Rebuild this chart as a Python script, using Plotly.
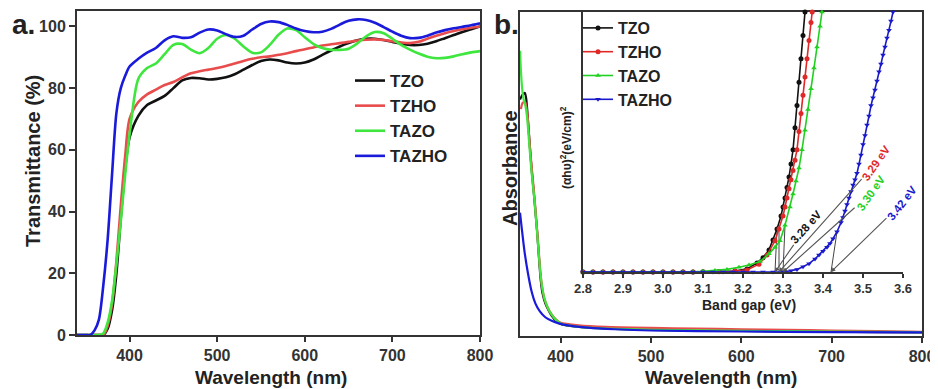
import plotly.graph_objects as go

# The page body adds an 8 px margin; the figure is sized so it fills the 938x389 window.
OFF = 8
W, H = 938 - OFF, 389 - OFF
FONT = "Liberation Sans, Arial, sans-serif"


def px(x):
    return (x - OFF) / W


def py(y):
    return 1 - (y - OFF) / H


names = ["TZO", "TZHO", "TAZO", "TAZHO"]
colors = ["#111111", "#e84c4c", "#3ee63e", "#1a1adb"]
inset_colors = ["#111111", "#e02828", "#22d022", "#1a1acc"]
symbols = ["circle", "circle", "triangle-up", "triangle-down"]

# ---------------- Panel a: transmittance ----------------
wl_a = [340, 350, 355, 360, 365, 370, 375, 380, 385, 390, 395, 400,
        410, 420, 430, 440, 450, 460, 470, 480, 490, 500, 510, 520, 530, 540,
        550, 560, 570, 580, 590, 600, 610, 620, 630, 640, 650, 660, 670, 680,
        690, 700, 710, 720, 730, 740, 750, 760, 770, 780, 790, 800]
T_TZO = [0, 0, 0, 0, 0, 0, 2, 8, 20, 38, 54, 64,
         71, 74.5, 76, 77.5, 80, 82.5, 83.3, 83.2, 82.8, 83, 83.5, 84.5, 86, 87.5,
         88.8, 89.3, 89, 88.3, 88, 88.3, 89.3, 90.8, 92.2, 93.5, 94.6, 95.5, 96, 96,
         95.6, 95, 94.4, 94, 94, 94.4, 95.2, 96.2, 97.2, 98.2, 99.1, 100]
T_TZHO = [0, 0, 0, 0, 0, 0, 3, 10, 24, 42, 58, 70,
          75.5, 78, 79.5, 81, 82, 83.5, 84.8, 85.5, 86, 86.5, 87.2, 88, 88.8, 89.5,
          90, 90.3, 90.8, 91.3, 92, 92.6, 93.2, 93.8, 94.2, 94.6, 95, 95.4, 95.7, 95.8,
          95.6, 95.2, 94.8, 94.6, 95, 96, 97, 97.8, 98.5, 99.1, 99.6, 100]
T_TAZO = [0, 0, 0, 0, 0, 0.5, 4, 11, 23, 37, 52, 65,
          83, 86.5, 88, 91, 94, 94.3, 92.5, 91.3, 93, 96, 97.2, 96, 93.5, 91.5,
          91.6, 94, 97.3, 99.3, 98.8, 96.5, 94.3, 93, 92.4, 92.4, 92.8, 94.5, 96.8, 98.2,
          97.8, 96, 94, 92.5, 91.2, 90.2, 89.7, 89.8, 90.3, 91, 91.6, 92]
T_TAZHO = [0, 0, 0, 1.5, 5, 16, 31, 52, 72, 80, 84, 87,
           89.5, 91.5, 93, 95.5, 96.8, 96.3, 96.5, 98, 99, 98.7, 97.5, 96.6, 97, 99,
           100.8, 101.6, 101.4, 100.5, 99.3, 98.5, 98.1, 98.3, 99.2, 100.6, 101.8, 102.3, 102.1, 101.2,
           99.8, 98.3, 97, 96.2, 96.3, 97, 98, 98.8, 99.4, 99.9, 100.4, 101]
T_all = [T_TZO, T_TZHO, T_TAZO, T_TAZHO]

# ---------------- Panel b: absorbance ----------------
wl_b_TZO = [355, 358, 360.5, 362, 364, 366, 368, 370, 372, 374, 376, 378, 380, 383, 386,
            390, 395, 400, 410, 430, 460, 500, 550, 600, 650, 700, 750, 800]
A_TZO = [0.73, 0.745, 0.75, 0.73, 0.66, 0.58, 0.51, 0.45, 0.385, 0.32, 0.24, 0.17, 0.13, 0.10, 0.082,
         0.062, 0.045, 0.036, 0.03, 0.025, 0.021, 0.018, 0.016, 0.015, 0.013, 0.012, 0.011, 0.010]
wl_b_TZHO = [356, 358, 361, 363, 365, 367, 369, 371, 373, 375, 377, 379, 382, 386,
             390, 395, 400, 420, 450, 500, 550, 600, 650, 700, 750, 800]
A_TZHO = [0.70, 0.72, 0.72, 0.69, 0.62, 0.55, 0.49, 0.43, 0.36, 0.29, 0.215, 0.16, 0.115, 0.085,
          0.066, 0.05, 0.04, 0.032, 0.027, 0.024, 0.022, 0.02, 0.018, 0.016, 0.014, 0.012]
wl_b_TAZO = [355, 356, 357.5, 359, 361, 363, 365, 367, 369, 371, 373, 375, 377, 379, 382, 386,
             390, 395, 400, 410, 430, 460, 500, 600, 700, 800]
A_TAZO = [0.88, 0.82, 0.76, 0.73, 0.71, 0.67, 0.60, 0.53, 0.47, 0.42, 0.35, 0.28, 0.21, 0.16, 0.115, 0.085,
          0.065, 0.048, 0.038, 0.031, 0.025, 0.021, 0.018, 0.015, 0.013, 0.011]
wl_b_TAZHO = [355, 357, 360, 364, 368, 372, 377, 383, 390, 397, 410, 430, 460, 500, 600, 700, 800]
A_TAZHO = [0.38, 0.33, 0.26, 0.19, 0.135, 0.10, 0.075, 0.057, 0.046, 0.039, 0.031, 0.025, 0.02,
           0.016, 0.013, 0.011, 0.010]
wl_b_all = [wl_b_TZO, wl_b_TZHO, wl_b_TAZO, wl_b_TAZHO]
A_all = [A_TZO, A_TZHO, A_TAZO, A_TAZHO]

# ---------------- Inset: Tauc plot ----------------
base_E = [2.800, 2.825, 2.850, 2.875, 2.900, 2.925, 2.950, 2.975, 3.000, 3.025, 3.050, 3.075, 3.100]
E_TZO = base_E + [3.14, 3.18, 3.21, 3.235, 3.25, 3.265, 3.275, 3.285, 3.295, 3.30, 3.305, 3.31,
                  3.315, 3.32, 3.325, 3.33, 3.335, 3.34, 3.345, 3.35, 3.355]
h_TZO = [0] * 12 + [0.001] + [0.002, 0.004, 0.012, 0.035, 0.055, 0.085, 0.123, 0.165, 0.215, 0.25, 0.285,
                              0.325, 0.365, 0.415, 0.47, 0.555, 0.64, 0.73, 0.82, 0.91, 1.0]
E_TZHO = base_E + [3.14, 3.18, 3.21, 3.24, 3.26, 3.28, 3.29, 3.30, 3.305, 3.31, 3.315, 3.32, 3.325,
                   3.33, 3.335, 3.34, 3.345, 3.35, 3.355, 3.36, 3.365, 3.37, 3.373]
h_TZHO = [0] * 13 + [0.001, 0.003, 0.008, 0.03, 0.065, 0.12, 0.165, 0.215, 0.25, 0.285, 0.32, 0.355,
                     0.39, 0.43, 0.47, 0.54, 0.61, 0.68, 0.75, 0.82, 0.89, 0.96, 1.0]
E_TAZO = base_E + [3.13, 3.16, 3.19, 3.215, 3.2425, 3.265, 3.28, 3.2925, 3.305, 3.3175, 3.325,
                   3.3325, 3.34, 3.3475, 3.355, 3.3625, 3.37, 3.3775, 3.385, 3.3925, 3.3975]
h_TAZO = [0] * 11 + [0.001, 0.003] + [0.006, 0.01, 0.018, 0.027, 0.04, 0.07, 0.095, 0.12, 0.18, 0.25,
                                      0.30, 0.35, 0.40, 0.47, 0.545, 0.625, 0.705, 0.785, 0.865, 0.945, 1.0]
E_TAZHO = base_E + [3.125, 3.15, 3.175, 3.20, 3.225, 3.25, 3.275, 3.30, 3.32, 3.335, 3.35, 3.365,
                    3.38, 3.39, 3.40, 3.41, 3.4175, 3.425, 3.435, 3.445,
                    3.450, 3.455, 3.460, 3.465, 3.470, 3.475, 3.480, 3.485, 3.490, 3.495, 3.500,
                    3.505, 3.510, 3.515, 3.520, 3.525, 3.530, 3.535, 3.540, 3.545, 3.550, 3.555,
                    3.560, 3.565, 3.570, 3.575]
h_TAZHO = [0] * 21 + [0.005, 0.01, 0.02, 0.032, 0.05, 0.065, 0.08, 0.095, 0.11, 0.128, 0.155, 0.19,
                      0.21, 0.235, 0.26, 0.285, 0.31, 0.335, 0.355, 0.38, 0.415, 0.45, 0.49,
                      0.525, 0.565, 0.60, 0.64, 0.67, 0.70, 0.735, 0.77, 0.80, 0.835, 0.865,
                      0.90, 0.93, 0.965, 1.0]
E_all = [E_TZO, E_TZHO, E_TAZO, E_TAZHO]
h_all = [h_TZO, h_TZHO, h_TAZO, h_TAZHO]

band_gaps = [3.28, 3.29, 3.30, 3.42]
gap_labels = ["3.28 eV", "3.29 eV", "3.30 eV", "3.42 eV"]

xticks_a = [400, 500, 600, 700, 800]
yticks_a = [0, 20, 40, 60, 80, 100]
xticks_b = [400, 500, 600, 700, 800]
xticks_inset = [2.8, 2.9, 3.0, 3.1, 3.2, 3.3, 3.4, 3.5, 3.6]

fig = go.Figure()

for i in range(4):
    fig.add_trace(go.Scatter(
        x=wl_a, y=T_all[i], mode="lines", name=names[i],
        line=dict(color=colors[i], width=2.6, shape="spline", smoothing=0.8),
        xaxis="x", yaxis="y", legend="legend"))

for i in range(4):
    fig.add_trace(go.Scatter(
        x=wl_b_all[i], y=A_all[i], mode="lines", name=names[i], showlegend=False,
        line=dict(color=colors[i], width=2.2, shape="spline", smoothing=0.6),
        xaxis="x2", yaxis="y2"))

# tangent (linear fit) lines: from band gap intercept to the curve
for i in range(4):
    k = next(j for j, v in enumerate(h_all[i]) if v >= 0.14)
    fig.add_trace(go.Scatter(
        x=[band_gaps[i], E_all[i][k]], y=[0, h_all[i][k]], mode="lines",
        line=dict(color="#444444", width=1), showlegend=False,
        xaxis="x3", yaxis="y3", cliponaxis=False))

for i in range(4):
    fig.add_trace(go.Scatter(
        x=E_all[i], y=h_all[i], mode="lines+markers", name=names[i],
        line=dict(color=inset_colors[i], width=1.6),
        marker=dict(color=inset_colors[i], symbol=symbols[i], size=5),
        xaxis="x3", yaxis="y3", legend="legend2", cliponaxis=False))

axis_common = dict(showline=True, linecolor="#333333", linewidth=2, showgrid=False,
                   zeroline=False, ticks="outside", tickcolor="#333333", tickwidth=2,
                   automargin=False, ticklabeloverflow="allow")
tick_font = dict(family=FONT, size=16, color="#333333", weight="bold")

fig.update_layout(
    template="none",
    width=W, height=H, margin=dict(l=0, r=0, t=0, b=0, pad=0, autoexpand=False),
    paper_bgcolor="white", plot_bgcolor="white",
    font=dict(family=FONT, color="#222222"),
    xaxis=dict(domain=[px(77), px(480)], range=[340, 800], tickvals=xticks_a,
               ticklen=5, mirror=True, tickfont=tick_font, anchor="y", **axis_common),
    yaxis=dict(domain=[py(335), py(11)], range=[0, 105], tickvals=yticks_a,
               ticklen=6, mirror=True, tickfont=tick_font, anchor="x", **axis_common),
    xaxis2=dict(domain=[px(520), px(922)], range=[355, 800], tickvals=xticks_b,
                ticklen=5, mirror=True, tickfont=tick_font, anchor="y2", **axis_common),
    yaxis2=dict(domain=[py(335.7), py(12)], range=[0, 1], showticklabels=False,
                mirror=True, anchor="x2",
                **{**axis_common, "ticks": ""}),
    xaxis3=dict(domain=[px(583), px(903)], range=[2.8, 3.6], tickvals=xticks_inset,
                ticktext=[f"{v:.1f}" for v in xticks_inset], ticklen=4,
                tickfont=dict(family=FONT, size=13, color="#333333", weight="bold"),
                anchor="y3", **{**axis_common, "linewidth": 1.6, "tickwidth": 1.5}),
    yaxis3=dict(domain=[py(272), py(12)], range=[0, 1], showticklabels=False, anchor="x3",
                **{**axis_common, "ticks": "", "linewidth": 1.6}),
    legend=dict(x=px(350), y=py(63), xanchor="left", yanchor="top",
                bgcolor="rgba(0,0,0,0)", tracegroupgap=0,
                font=dict(family=FONT, size=17, color="#222222", weight="bold")),
    legend2=dict(x=px(578), y=py(11), xanchor="left", yanchor="top",
                 bgcolor="rgba(0,0,0,0)", tracegroupgap=0,
                 font=dict(family=FONT, size=16, color="#222222", weight="bold")),
)

ann = []


def add_text(text, x, y, size, angle=0, color="#222222"):
    ann.append(dict(text=text, x=px(x), y=py(y), xref="paper", yref="paper",
                    showarrow=False, textangle=angle, xanchor="center", yanchor="middle",
                    font=dict(family=FONT, size=size, color=color, weight="bold")))


add_text("a.", 23, 24, 28)
add_text("b.", 506, 24, 28)
add_text("Wavelength (nm)", 271, 377, 19)
add_text("Wavelength (nm)", 721, 377, 19)
add_text("Transmittance (%)", 33, 161, 20, -90)
add_text("Absorbance", 510, 168, 20, -90)
add_text("Band gap (eV)", 749, 305, 14)
add_text("(αhυ)<sup>2</sup>(eV/cm)<sup>2</sup>", 566, 148, 12, -90)

label_offsets = [(31, -45, -48), (97, -109, -55), (88, -79, -55), (71, -69, -52)]
for i in range(4):
    ax_, ay_, ang = label_offsets[i]
    ann.append(dict(text=gap_labels[i], x=band_gaps[i], y=0, xref="x3", yref="y3",
                    showarrow=True, ax=ax_, ay=ay_, textangle=ang,
                    arrowhead=2, arrowsize=0.8, arrowwidth=1.1, arrowcolor="#555555",
                    font=dict(family=FONT, size=11.5, color=inset_colors[i], weight="bold")))

fig.update_layout(annotations=ann)
fig.write_html("out.html")
